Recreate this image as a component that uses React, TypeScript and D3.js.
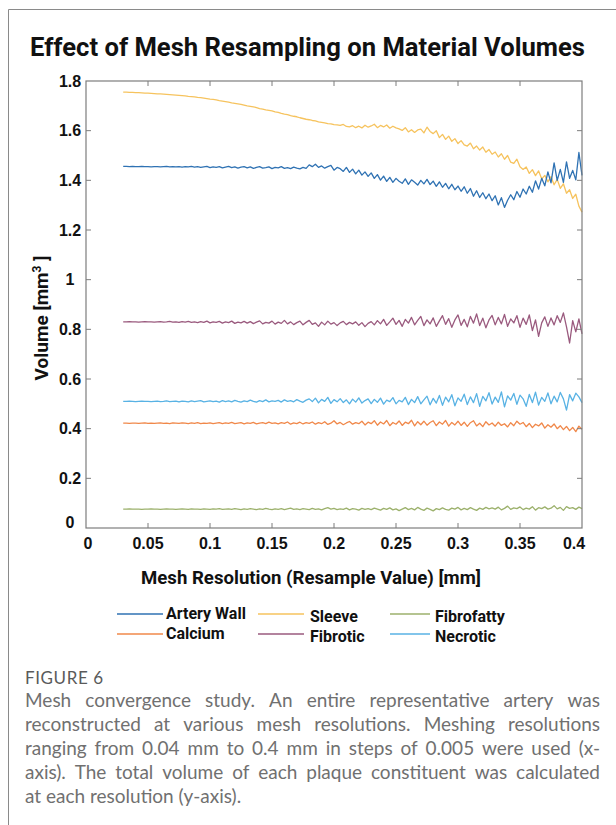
import React, { useMemo } from "react";
import * as d3 from "d3";

// ---------- data ----------
const X_START = 0.03;
const X_STEP = 0.0025;

const arteryWall = [
  1.456,1.456,1.455,1.456,1.455,1.455,1.456,1.455,1.455,1.454,
  1.455,1.455,1.454,1.455,1.456,1.454,1.455,1.454,1.455,1.453,
  1.455,1.454,1.456,1.453,1.455,1.452,1.454,1.456,1.451,1.454,
  1.452,1.455,1.450,1.453,1.456,1.451,1.454,1.449,1.453,1.455,
  1.450,1.454,1.448,1.452,1.455,1.449,1.451,1.454,1.447,1.452,
  1.450,1.455,1.448,1.451,1.447,1.453,1.449,1.446,1.452,1.448,
  1.462,1.455,1.465,1.452,1.458,1.449,1.455,1.460,1.441,1.452,
  1.447,1.436,1.452,1.432,1.445,1.426,1.441,1.421,1.434,1.416,
  1.430,1.408,1.423,1.401,1.417,1.396,1.412,1.392,1.408,1.396,
  1.388,1.406,1.384,1.402,1.392,1.381,1.400,1.386,1.404,1.383,
  1.397,1.376,1.394,1.372,1.388,1.366,1.384,1.362,1.377,1.356,
  1.374,1.348,1.367,1.336,1.358,1.331,1.350,1.326,1.345,1.318,
  1.338,1.301,1.330,1.291,1.320,1.342,1.322,1.355,1.332,1.365,
  1.345,1.376,1.352,1.398,1.365,1.408,1.378,1.434,1.390,1.470,
  1.400,1.444,1.392,1.474,1.408,1.440,1.402,1.512,1.420,
];

const sleeve = [
  1.755,1.755,1.754,1.754,1.753,1.753,1.752,1.751,1.751,1.750,
  1.749,1.748,1.748,1.747,1.746,1.745,1.744,1.743,1.742,1.741,
  1.740,1.738,1.737,1.736,1.734,1.733,1.731,1.729,1.727,1.726,
  1.724,1.721,1.719,1.717,1.715,1.712,1.710,1.708,1.706,1.703,
  1.700,1.698,1.696,1.693,1.689,1.687,1.684,1.682,1.680,1.676,
  1.674,1.670,1.667,1.665,1.661,1.658,1.656,1.652,1.649,1.646,
  1.644,1.641,1.639,1.635,1.633,1.631,1.628,1.627,1.624,1.623,
  1.621,1.625,1.617,1.615,1.620,1.612,1.618,1.611,1.622,1.614,
  1.619,1.626,1.612,1.621,1.615,1.623,1.610,1.618,1.611,1.607,
  1.601,1.612,1.595,1.604,1.593,1.603,1.606,1.591,1.614,1.597,
  1.588,1.600,1.572,1.585,1.565,1.578,1.557,1.568,1.548,1.560,
  1.543,1.538,1.550,1.527,1.538,1.522,1.534,1.513,1.524,1.505,
  1.514,1.494,1.507,1.485,1.500,1.473,1.468,1.485,1.455,1.444,
  1.454,1.428,1.443,1.419,1.438,1.406,1.420,1.394,1.415,1.382,
  1.404,1.368,1.386,1.348,1.362,1.327,1.344,1.296,1.272,
];

const fibrofatty = [
  0.076,0.076,0.077,0.076,0.076,0.076,0.075,0.076,0.076,0.077,
  0.076,0.076,0.075,0.076,0.077,0.076,0.076,0.075,0.076,0.077,
  0.076,0.075,0.077,0.076,0.076,0.075,0.077,0.076,0.075,0.077,
  0.076,0.078,0.075,0.076,0.077,0.075,0.078,0.076,0.074,0.077,
  0.075,0.078,0.076,0.074,0.077,0.075,0.079,0.076,0.074,0.077,
  0.075,0.078,0.074,0.077,0.080,0.075,0.077,0.074,0.078,0.076,
  0.074,0.079,0.075,0.077,0.073,0.078,0.082,0.076,0.079,0.074,
  0.077,0.075,0.080,0.073,0.078,0.076,0.072,0.079,0.075,0.078,
  0.074,0.080,0.076,0.072,0.079,0.075,0.081,0.073,0.077,0.070,
  0.076,0.082,0.074,0.079,0.073,0.083,0.076,0.071,0.080,0.075,
  0.069,0.078,0.074,0.081,0.075,0.072,0.080,0.076,0.083,0.073,
  0.079,0.074,0.082,0.076,0.071,0.080,0.075,0.083,0.077,0.081,
  0.076,0.084,0.073,0.079,0.088,0.075,0.081,0.078,0.085,0.074,
  0.080,0.076,0.086,0.072,0.082,0.078,0.085,0.076,0.080,0.090,
  0.077,0.083,0.071,0.086,0.079,0.082,0.075,0.084,0.078,
];

const calcium = [
  0.422,0.422,0.421,0.422,0.422,0.421,0.422,0.423,0.421,0.422,
  0.421,0.422,0.423,0.421,0.422,0.420,0.423,0.422,0.421,0.423,
  0.422,0.420,0.423,0.421,0.424,0.420,0.422,0.421,0.423,0.420,
  0.422,0.424,0.420,0.423,0.421,0.425,0.420,0.422,0.424,0.419,
  0.423,0.421,0.425,0.419,0.422,0.424,0.420,0.426,0.421,0.423,
  0.419,0.424,0.421,0.427,0.418,0.423,0.420,0.426,0.419,0.424,
  0.421,0.427,0.418,0.424,0.420,0.428,0.417,0.422,0.432,0.419,
  0.425,0.416,0.423,0.429,0.418,0.424,0.420,0.430,0.415,0.426,
  0.420,0.432,0.414,0.427,0.419,0.433,0.412,0.425,0.418,0.431,
  0.413,0.426,0.420,0.434,0.411,0.428,0.416,0.430,0.414,0.425,
  0.432,0.412,0.427,0.418,0.433,0.410,0.425,0.415,0.430,0.413,
  0.426,0.409,0.424,0.432,0.411,0.422,0.408,0.428,0.415,0.423,
  0.410,0.426,0.413,0.420,0.407,0.424,0.412,0.430,0.418,0.425,
  0.408,0.421,0.404,0.418,0.411,0.423,0.402,0.416,0.406,0.419,
  0.400,0.412,0.396,0.409,0.392,0.405,0.388,0.410,0.398,
];

const fibrotic = [
  0.830,0.830,0.831,0.830,0.830,0.829,0.830,0.831,0.830,0.830,
  0.829,0.830,0.831,0.829,0.830,0.832,0.829,0.830,0.828,0.831,
  0.829,0.832,0.828,0.830,0.827,0.831,0.828,0.833,0.826,0.830,
  0.828,0.832,0.825,0.830,0.827,0.833,0.824,0.829,0.826,0.832,
  0.825,0.831,0.823,0.829,0.834,0.822,0.828,0.825,0.833,0.821,
  0.829,0.824,0.836,0.822,0.830,0.819,0.827,0.833,0.818,0.828,
  0.836,0.820,0.826,0.812,0.829,0.818,0.833,0.821,0.827,0.815,
  0.826,0.832,0.819,0.828,0.822,0.830,0.816,0.827,0.811,0.824,
  0.831,0.818,0.835,0.822,0.840,0.816,0.830,0.845,0.820,0.836,
  0.812,0.840,0.825,0.848,0.818,0.836,0.852,0.815,0.838,0.822,
  0.846,0.812,0.834,0.855,0.820,0.843,0.808,0.838,0.858,0.816,
  0.840,0.810,0.852,0.825,0.862,0.815,0.845,0.806,0.838,0.856,
  0.818,0.848,0.822,0.860,0.812,0.842,0.826,0.855,0.808,0.845,
  0.820,0.858,0.795,0.838,0.772,0.826,0.850,0.812,0.846,0.818,
  0.855,0.828,0.866,0.810,0.745,0.835,0.790,0.842,0.782,
];

const necrotic = [
  0.510,0.510,0.511,0.510,0.509,0.510,0.511,0.510,0.510,0.509,
  0.510,0.511,0.509,0.510,0.512,0.509,0.510,0.511,0.508,0.511,
  0.510,0.508,0.512,0.509,0.511,0.513,0.508,0.510,0.512,0.509,
  0.511,0.507,0.513,0.509,0.512,0.508,0.514,0.510,0.507,0.512,
  0.509,0.515,0.510,0.507,0.513,0.509,0.516,0.508,0.512,0.510,
  0.514,0.507,0.516,0.510,0.513,0.508,0.517,0.511,0.506,0.515,
  0.520,0.509,0.523,0.504,0.518,0.510,0.526,0.502,0.517,0.508,
  0.521,0.505,0.516,0.500,0.519,0.507,0.524,0.503,0.513,0.520,
  0.501,0.518,0.506,0.523,0.499,0.515,0.509,0.525,0.500,0.514,
  0.508,0.526,0.497,0.518,0.505,0.529,0.500,0.516,0.531,0.496,
  0.522,0.503,0.534,0.494,0.527,0.508,0.537,0.492,0.524,0.510,
  0.539,0.497,0.528,0.505,0.541,0.490,0.530,0.512,0.545,0.499,
  0.527,0.506,0.548,0.488,0.532,0.515,0.542,0.498,0.535,0.520,
  0.490,0.538,0.505,0.547,0.495,0.526,0.510,0.544,0.500,0.531,
  0.508,0.546,0.520,0.475,0.537,0.512,0.543,0.528,0.505,
];

const seriesNames = ["Artery Wall", "Calcium", "Sleeve", "Fibrotic", "Fibrofatty", "Necrotic"];
const seriesColors = ["#2f72b3", "#f0884a", "#f6c35e", "#9a5a7e", "#9cb16c", "#58b2e4"];
const seriesData = [arteryWall, calcium, sleeve, fibrotic, fibrofatty, necrotic];
const drawOrder = [2, 0, 3, 5, 1, 4];

const xTicks = [0, 0.05, 0.1, 0.15, 0.2, 0.25, 0.3, 0.35, 0.4];
const xTickLabels = ["0", "0.05", "0.1", "0.15", "0.2", "0.25", "0.3", "0.35", "0.4"];
const yTicks = [0, 0.2, 0.4, 0.6, 0.8, 1, 1.2, 1.4, 1.6, 1.8];
const yTickLabels = ["0", "0.2", "0.4", "0.6", "0.8", "1", "1.2", "1.4", "1.6", "1.8"];

const title = "Effect of Mesh Resampling on Material Volumes";
const xLabel = "Mesh Resolution (Resample Value) [mm]";
const figureLabel = "FIGURE 6";
const captionLines = [
  "Mesh convergence study. An entire representative artery was",
  "reconstructed at various mesh resolutions. Meshing resolutions",
  "ranging from 0.04 mm to 0.4 mm in steps of 0.005 were used (x-",
  "axis). The total volume of each plaque constituent was calculated",
  "at each resolution (y-axis).",
];

// ---------- layout ----------
const W = 616;
const H = 825;
const PL = 86, PR = 582, PT = 81, PB = 528;
const TITLE_FONT = "Roboto, 'Liberation Sans', sans-serif";
const TICK_FONT = "'Liberation Sans', Arial, sans-serif";
const CAP_FONT = "Lato, 'Open Sans', sans-serif";
const CAP_SIZE = 19;

function justify(line: string, fontSize: number, x0: number, x1: number, last: boolean) {
  const words = line.split(" ");
  let widths = words.map((w) => w.length * fontSize * 0.48);
  let spaceW = fontSize * 0.26;
  try {
    const ctx = document.createElement("canvas").getContext("2d");
    if (ctx) {
      ctx.font = `400 ${fontSize}px Lato`;
      widths = words.map((w) => ctx.measureText(w).width);
      spaceW = ctx.measureText(" ").width;
    }
  } catch (e) {}
  const total = widths.reduce((a, b) => a + b, 0);
  const gap = last || words.length < 2 ? spaceW : (x1 - x0 - total) / (words.length - 1);
  const out: { w: string; x: number }[] = [];
  let cx = x0;
  words.forEach((w, i) => {
    out.push({ w, x: cx });
    cx += widths[i] + gap;
  });
  return out;
}

export default function App() {
  const xValues = useMemo(() => d3.range(arteryWall.length).map((i) => +(X_START + i * X_STEP).toFixed(4)), []);
  const x = d3.scaleLinear().domain([0, 0.4]).range([PL, PR]);
  const y = d3.scaleLinear().domain([0, 1.8]).range([PB, PT]);
  const line = d3
    .line<number>()
    .x((_, i) => x(xValues[i]))
    .y((d) => y(d));

  const caption = useMemo(
    () => captionLines.map((l, i) => justify(l, CAP_SIZE, 25, 600, i === captionLines.length - 1)),
    []
  );

  const legendCols = [117, 258, 390];
  const legendRows = [614, 634];
  const tickLen = 5;

  return (
    <div style={{ position: "absolute", left: 0, top: 0 }}>
      <svg width={W} height={H} viewBox={`0 0 ${W} ${H}`} style={{ display: "block", background: "#fff" }}>
        {/* outer frame */}
        <line x1={8.5} y1={9.5} x2={W} y2={9.5} stroke="#8a8a8a" strokeWidth={1} />
        <line x1={8.5} y1={9.5} x2={8.5} y2={H} stroke="#8a8a8a" strokeWidth={1} />

        {/* title */}
        <text
          x={30}
          y={56}
          fontFamily={TITLE_FONT}
          fontWeight={700}
          fontSize={25}
          fill="#111"
          textLength={555}
          lengthAdjust="spacingAndGlyphs"
        >
          {title}
        </text>

        {/* series */}
        <g fill="none" strokeWidth={1.3} strokeLinejoin="round">
          {drawOrder.map((k) => (
            <path key={seriesNames[k]} d={line(seriesData[k]) || ""} stroke={seriesColors[k]} />
          ))}
        </g>

        {/* plot box */}
        <rect x={PL} y={PT} width={PR - PL} height={PB - PT} fill="none" stroke="#7d7d7d" strokeWidth={1.2} />

        {/* x ticks */}
        {xTicks.map((t, i) => (
          <g key={"xt" + i}>
            {i > 0 && i < xTicks.length - 1 && (
              <>
                <line x1={x(t)} x2={x(t)} y1={PB} y2={PB - tickLen} stroke="#7d7d7d" strokeWidth={1} />
                <line x1={x(t)} x2={x(t)} y1={PT} y2={PT + tickLen} stroke="#7d7d7d" strokeWidth={1} />
              </>
            )}
            <text
              x={x(t) + (i === 0 ? 2 : i === xTicks.length - 1 ? -8 : 0)}
              y={549}
              textAnchor="middle"
              fontFamily={TICK_FONT}
              fontWeight={700}
              fontSize={16}
              fill="#111"
            >
              {xTickLabels[i]}
            </text>
          </g>
        ))}

        {/* y ticks */}
        {yTicks.map((t, i) => (
          <g key={"yt" + i}>
            {i > 0 && i < yTicks.length - 1 && (
              <>
                <line x1={PL} x2={PL + tickLen} y1={y(t)} y2={y(t)} stroke="#7d7d7d" strokeWidth={1} />
                <line x1={PR} x2={PR - tickLen} y1={y(t)} y2={y(t)} stroke="#7d7d7d" strokeWidth={1} />
              </>
            )}
            <text
              x={70}
              y={y(t) + (i === 0 ? -6 : 0)}
              dy="0.36em"
              textAnchor="middle"
              fontFamily={TICK_FONT}
              fontWeight={700}
              fontSize={16}
              fill="#111"
            >
              {yTickLabels[i]}
            </text>
          </g>
        ))}

        {/* axis labels */}
        <text
          x={311}
          y={584}
          textAnchor="middle"
          fontFamily={TITLE_FONT}
          fontWeight={700}
          fontSize={18}
          fill="#111"
          textLength={340}
          lengthAdjust="spacingAndGlyphs"
        >
          {xLabel}
        </text>
        <text
          transform="translate(48,318) rotate(-90)"
          textAnchor="middle"
          fontFamily={TITLE_FONT}
          fontWeight={700}
          fontSize={19}
          fill="#111"
        >
          Volume [mm
          <tspan dy={-7} fontSize={12}>3</tspan>
          <tspan dy={7}> ]</tspan>
        </text>

        {/* legend */}
        {seriesNames.map((name, k) => {
          const col = Math.floor(k / 2);
          const row = k % 2;
          const lx = legendCols[col];
          const ly = legendRows[row];
          const lw = col === 2 ? 40 : 46;
          const tx = col === 0 ? 166 : col === 1 ? 310 : 435;
          const tyOff = col === 0 ? 5 : 8;
          return (
            <g key={"lg" + name}>
              <line x1={lx} x2={lx + lw} y1={ly} y2={ly} stroke={seriesColors[k]} strokeWidth={1.6} />
              <text x={tx} y={ly + tyOff} fontFamily={TITLE_FONT} fontWeight={700} fontSize={16} fill="#111">
                {name}
              </text>
            </g>
          );
        })}

        {/* caption */}
        <text x={25} y={684} fontFamily={CAP_FONT} fontSize={17} letterSpacing={0.6} fill="#5a5a5a">
          {figureLabel}
        </text>
        {caption.map((words, li) => (
          <text key={"cap" + li} y={707 + li * 24} fontFamily={CAP_FONT} fontWeight={400} fontSize={CAP_SIZE} fill="#707070">
            {words.map((w, wi) => (
              <tspan key={wi} x={w.x}>
                {w.w}
              </tspan>
            ))}
          </text>
        ))}
      </svg>
    </div>
  );
}
